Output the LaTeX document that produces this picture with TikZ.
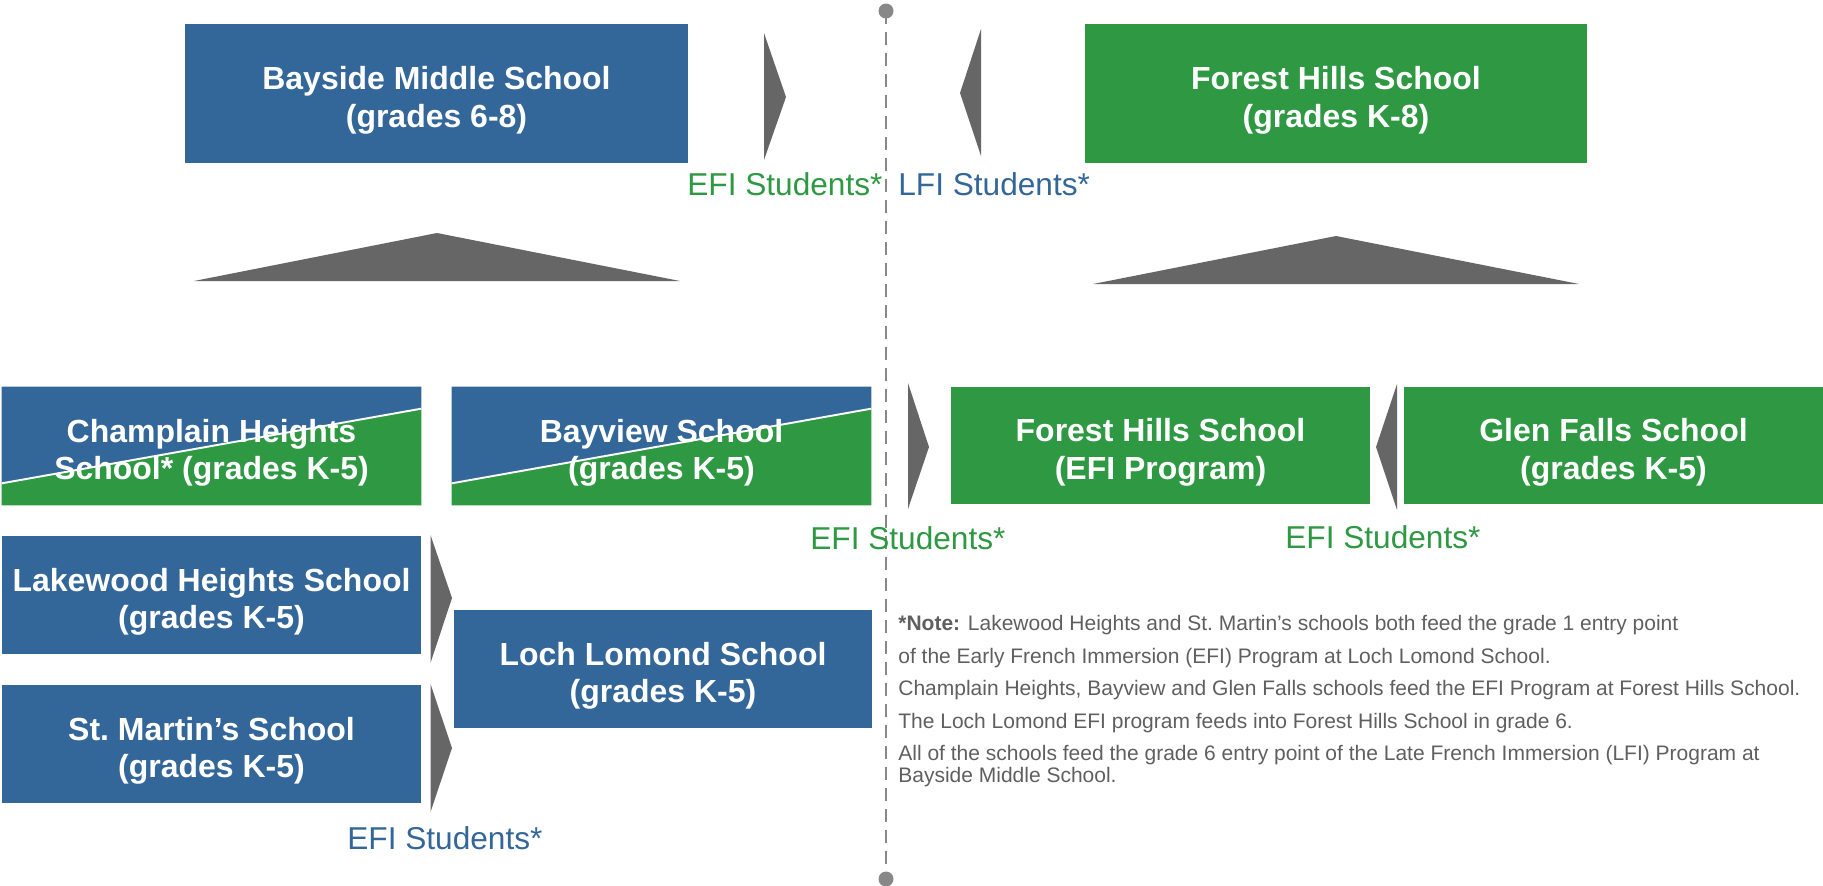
\documentclass[tikz,border=0pt]{standalone}
\usepackage{fontspec}
\setmainfont{Liberation Sans}
\usepackage{tikz}
\usetikzlibrary{positioning,calc,backgrounds}
\definecolor{schoolblue}{HTML}{346799}
\definecolor{schoolgreen}{HTML}{2E9843}
\definecolor{pointergray}{HTML}{666666}
\definecolor{notegray}{HTML}{5F5F5F}
\definecolor{linegray}{HTML}{888888}

\begin{document}
\begin{tikzpicture}[x=0.02cm, y=-0.02cm,
    school/.style={inner sep=0pt},
    bigbox/.style={school, minimum width=10.06cm, minimum height=2.78cm},
    smallbox/.style={school, minimum width=8.38cm, minimum height=2.36cm},
    boxtext/.style={text=white, font=\bfseries\fontsize{18.2}{21.3}\selectfont, align=center, inner sep=0pt, yshift=-0.14cm},
    pointer/.style={fill=pointergray},
    studentlabel/.style={font=\fontsize{18}{21}\selectfont, inner sep=0pt, anchor=base west},
    notetext/.style={text=notegray, font=\fontsize{11.95}{12.5}\selectfont, align=left, inner sep=0pt}]
    \useasboundingbox (0,0) rectangle (1823,886);

    % divider
    \coordinate (divtop) at (886,11);
    \coordinate (divbot) at (886,879);
    \draw [linegray, line width=1.1pt, dash pattern=on 0.26cm off 0.16cm] (divtop) -- (divbot);
    \fill [linegray] (divtop) circle (0.15cm);
    \fill [linegray] (divbot) circle (0.15cm);

    % top row
    \node [bigbox, fill=schoolblue, label={[boxtext]center:{Bayside Middle School\\(grades 6-8)}}] (bayside) at (436.5,93.5) {};
    \node [bigbox, fill=schoolgreen, label={[boxtext]center:{Forest Hills School\\(grades K-8)}}] (foresttop) at (1336,93.5) {};

    \fill [pointer] (764,33) -- (786,97) -- (764,160) -- cycle;
    \fill [pointer] (981,29) -- (960,93) -- (981,156) -- cycle;
    \node [studentlabel, text=schoolgreen] (efitop) at (687,195) {EFI Students*};
    \node [studentlabel, text=schoolblue] (lfitop) at (898,195) {LFI Students*};

    \fill [pointer] (194,281) -- (437,233) -- (680,281) -- cycle;
    \fill [pointer] (1093,284) -- (1336,236) -- (1579,284) -- cycle;

    % middle row
    \node [smallbox, label={[boxtext]center:{Champlain Heights\\School* (grades K-5)}}] (champlain) at (211.5,446) {};
    \node [smallbox, label={[boxtext]center:{Bayview School\\(grades K-5)}}] (bayview) at (661.5,446) {};
    \node [smallbox, fill=schoolgreen, label={[boxtext]center:{Forest Hills School\\(EFI Program)}}] (forestefi) at (1160.5,445.5) {};
    \node [smallbox, fill=schoolgreen, label={[boxtext]center:{Glen Falls School\\(grades K-5)}}] (glenfalls) at (1613.5,445.5) {};

    \begin{scope}[on background layer]
        \foreach \s in {champlain, bayview} {
            \fill [schoolblue] (\s.north west) -- (\s.north east) -- ($(\s.north east)+(0,22)$) -- ($(\s.south west)+(0,-22)$) -- cycle;
            \fill [schoolgreen] ($(\s.south west)+(0,-22)$) -- ($(\s.north east)+(0,22)$) -- (\s.south east) -- (\s.south west) -- cycle;
            \draw [white, line width=1.1pt] ($(\s.south west)+(0,-22)$) -- ($(\s.north east)+(0,22)$);
        }
    \end{scope}

    \fill [pointer] (908,383) -- (929,447) -- (908,509) -- cycle;
    \fill [pointer] (1397,384) -- (1376,447) -- (1397,510) -- cycle;
    \node [studentlabel, text=schoolgreen] (efimidleft) at (810,549) {EFI Students*};
    \node [studentlabel, text=schoolgreen] (efimidright) at (1285,548) {EFI Students*};

    % bottom row
    \node [smallbox, fill=schoolblue, label={[boxtext]center:{Lakewood Heights School\\(grades K-5)}}] (lakewood) at (211.5,595) {};
    \node [smallbox, fill=schoolblue, label={[boxtext]center:{St.~Martin’s School\\(grades K-5)}}] (stmartin) at (211.5,744) {};
    \node [smallbox, fill=schoolblue, label={[boxtext]center:{Loch Lomond School\\(grades K-5)}}] (lochlomond) at (663,669) {};

    \fill [pointer] (430.5,535) -- (452,598) -- (430.5,663) -- cycle;
    \fill [pointer] (430.5,684) -- (452,748) -- (430.5,812) -- cycle;
    \node [studentlabel, text=schoolblue] (efibottom) at (347,849) {EFI Students*};

    % note
    \node [notetext, anchor=north west] (note) at (898,615) {\textbf{*Note:} Lakewood Heights and St.~Martin’s schools both feed the grade 1 entry point\\[6pt]
        of the Early French Immersion (EFI) Program at Loch Lomond School.\\[6pt]
        Champlain Heights, Bayview and Glen Falls schools feed the EFI Program at Forest Hills School.\\[6pt]
        The Loch Lomond EFI program feeds into Forest Hills School in grade 6.\\[6pt]
        All of the schools feed the grade 6 entry point of the Late French Immersion (LFI) Program at\\
        Bayside Middle School.};
\end{tikzpicture}
\end{document}
